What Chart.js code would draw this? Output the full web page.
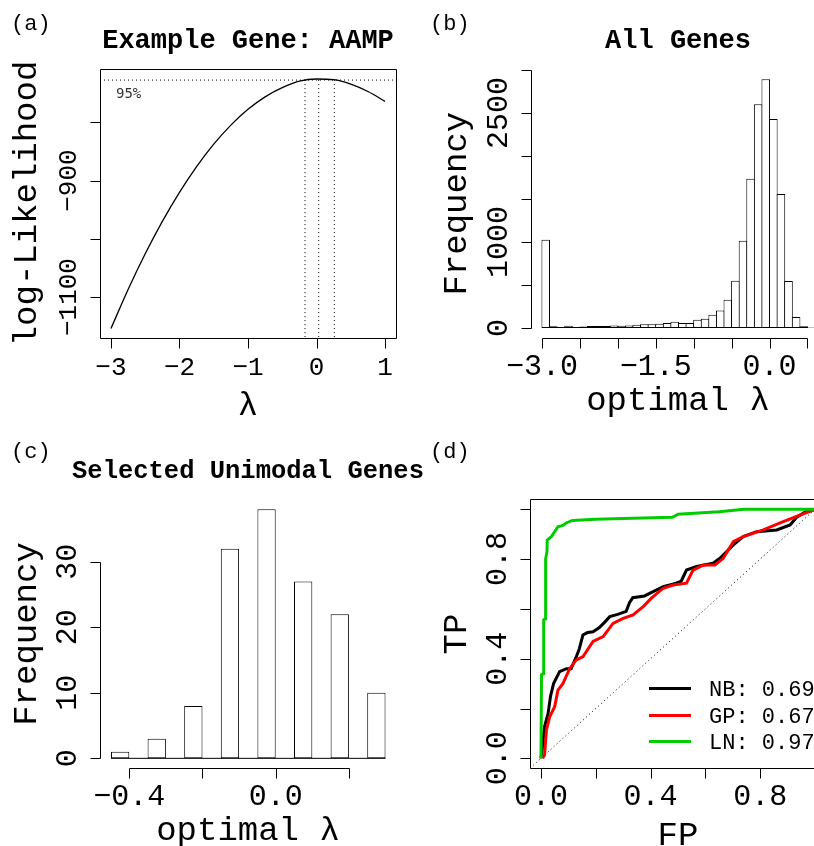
<!DOCTYPE html>
<html lang="en">
<head>
  <meta charset="UTF-8" />
  <title>Box-Cox lambda - four panels</title>
  <script src="https://cdn.jsdelivr.net/npm/chart.js"></script>
  <style>
    html, body { margin: 0; padding: 0; background: #fff; overflow: hidden; }
    #page { position: relative; width: 814px; height: 846px; overflow: hidden; background: #fff; }
    #page canvas { position: absolute; left: 0; top: 0; }
  </style>
</head>
<body>
<div id="page">
  <canvas id="panelA" width="840" height="846"></canvas>
  <canvas id="panelB" width="840" height="846"></canvas>
  <canvas id="panelC" width="840" height="846"></canvas>
  <canvas id="panelD" width="840" height="846"></canvas>
</div>

<script>
  // (a) profile log-likelihood for one gene
  const aLambda = [-3, -2.75, -2.5, -2.25, -2, -1.75, -1.5, -1.25, -1, -0.75, -0.5, -0.25, 0, 0.25, 0.5, 0.75, 1];
  const aLogLik = [-1154, -1087, -1025.7, -970.1, -920.2, -876, -837.5, -804.7, -777.6, -756.2, -740.5, -729.3, -725.6, -726.8, -734.4, -747.1, -764];
  const aCiLambda = [-0.168, 0.032, 0.26];
  const aCiLevel = -727.4;
  const aXTicks = [-3, -2, -1, 0, 1];
  const aXLabels = ['\u22123', '\u22122', '\u22121', '0', '1'];
  const aYTicks = [-1100, -1000, -900, -800];
  const aYLabels = ['\u22121100', '', '\u2212900', ''];

  // (b) optimal lambda, all genes (bins of 0.1)
  const allBreaks = [-3.0, -2.9, -2.8, -2.7, -2.6, -2.5, -2.4, -2.3, -2.2, -2.1, -2.0, -1.9, -1.8, -1.7, -1.6, -1.5, -1.4, -1.3, -1.2,
    -1.1, -1.0, -0.9, -0.8, -0.7, -0.6, -0.5, -0.4, -0.3, -0.2, -0.1, 0.0, 0.1, 0.2, 0.3, 0.4, 0.5, 0.6];
  const allCounts = [1027, 20, 12, 27, 12, 19, 23, 23, 23, 31, 27, 31, 39, 43, 43, 50, 58, 74, 58, 58, 97, 109, 155, 205,
    329, 550, 1016, 1736, 2601, 2891, 2430, 1558, 547, 128, 20, 6];
  const bXTicks = [-3, -2.5, -2, -1.5, -1, -0.5, 0, 0.5];
  const bXLabels = ['\u22123.0', '', '', '\u22121.5', '', '', '0.0', ''];
  const bYTicks = [0, 500, 1000, 1500, 2000, 2500, 3000];
  const bYLabels = ['0', '', '1000', '', '', '2500', ''];

  // (c) selected unimodal genes (bins of 0.05)
  const selBreaks = [-0.45, -0.40, -0.35, -0.30, -0.25, -0.20, -0.15, -0.10, -0.05, 0.00, 0.05, 0.10, 0.15, 0.20, 0.25, 0.30];
  const selCounts = [1, 0, 3, 0, 8, 0, 32, 0, 38, 0, 27, 0, 22, 0, 10];
  const cXTicks = [-0.4, -0.2, 0, 0.2];
  const cXLabels = ['\u22120.4', '', '0.0', ''];
  const cYTicks = [0, 10, 20, 30];
  const cYLabels = ['0', '10', '20', '30'];

  // (d) ROC curves
  const rocNames = ['NB', 'GP', 'LN'];
  const rocAuc = ['0.69', '0.67', '0.97'];
  const nbFP = [0.000, 0.006, 0.013, 0.026, 0.035, 0.046, 0.068, 0.093, 0.110, 0.129, 0.140, 0.153, 0.170, 0.190, 0.213, 0.231, 0.251, 0.280, 0.311,
    0.323, 0.335, 0.378, 0.402, 0.446, 0.494, 0.512, 0.531, 0.568, 0.628, 0.653, 0.702, 0.738, 0.787, 0.860, 0.909, 0.933, 0.962, 1.000];
  const nbTP = [0.000, 0.050, 0.127, 0.180, 0.250, 0.300, 0.348, 0.360, 0.360, 0.408, 0.440, 0.495, 0.505, 0.508, 0.525, 0.545, 0.569, 0.578, 0.590,
    0.625, 0.645, 0.652, 0.665, 0.689, 0.703, 0.712, 0.756, 0.770, 0.783, 0.803, 0.857, 0.890, 0.910, 0.917, 0.937, 0.968, 0.987, 1.000];
  const gpFP = [0.006, 0.013, 0.020, 0.032, 0.050, 0.062, 0.080, 0.105, 0.129, 0.153, 0.190, 0.227, 0.263, 0.300, 0.336, 0.373, 0.403, 0.446, 0.482,
    0.531, 0.555, 0.592, 0.635, 0.665, 0.702, 0.738, 0.811, 0.884, 1.000];
  const gpTP = [0.000, 0.013, 0.114, 0.167, 0.207, 0.274, 0.300, 0.361, 0.395, 0.408, 0.469, 0.489, 0.542, 0.562, 0.576, 0.609, 0.643, 0.683, 0.696,
    0.703, 0.756, 0.776, 0.776, 0.803, 0.870, 0.890, 0.917, 0.950, 1.000];
  const lnFP = [0.000, 0.002, 0.009, 0.010, 0.016, 0.017, 0.022, 0.023, 0.038, 0.062, 0.080, 0.092, 0.115, 0.200, 0.300, 0.480, 0.500, 0.650, 0.740, 1.000];
  const lnTP = [0.000, 0.335, 0.340, 0.556, 0.560, 0.800, 0.830, 0.877, 0.890, 0.930, 0.935, 0.945, 0.955, 0.960, 0.963, 0.968, 0.980, 0.990, 1.000, 1.000];
  const dTicks = [0, 0.2, 0.4, 0.6, 0.8, 1.0];
  const dLabels = ['0.0', '', '0.4', '', '0.8', ''];

  const W = 840, H = 846;
  const MONO = '"Liberation Mono", "Courier New", monospace';

  function zip(xs, ys) {
    return xs.map((x, i) => ({ x: x, y: ys[i] }));
  }

  function histData(breaks, counts) {
    return counts.map((c, i) => ({ x: (breaks[i] + breaks[i + 1]) / 2, y: c }));
  }

  function drawText(ctx, t) {
    ctx.save();
    ctx.font = t.font;
    ctx.fillStyle = t.color || '#000';
    ctx.textAlign = t.align || 'center';
    ctx.textBaseline = 'alphabetic';
    ctx.translate(t.x, t.y);
    if (t.rotate) ctx.rotate(-Math.PI / 2);
    ctx.fillText(t.text, 0, 0);
    ctx.restore();
  }

  // R-like axes: line from first to last tick, outward ticks, vertical y labels
  function rAxes(o) {
    return {
      id: 'rAxes',
      afterDraw(chart) {
        const ctx = chart.ctx, a = chart.chartArea;
        const sx = chart.scales.x, sy = chart.scales.y;
        const px = v => Math.round(sx.getPixelForValue(v)) + 0.5;
        const py = v => Math.round(sy.getPixelForValue(v)) + 0.5;
        const bottom = Math.round(a.bottom) + 0.5, left = Math.round(a.left) + 0.5;
        ctx.save();
        ctx.strokeStyle = '#000';
        ctx.lineWidth = 1;
        ctx.beginPath();
        if (o.box) {
          ctx.rect(left, Math.round(a.top) + 0.5, Math.round(a.right) - Math.round(a.left), Math.round(a.bottom) - Math.round(a.top));
        }
        ctx.moveTo(px(o.xTicks[0]), bottom);
        ctx.lineTo(px(o.xTicks[o.xTicks.length - 1]), bottom);
        o.xTicks.forEach(v => { ctx.moveTo(px(v), bottom); ctx.lineTo(px(v), bottom + 10); });
        ctx.moveTo(left, py(o.yTicks[0]));
        ctx.lineTo(left, py(o.yTicks[o.yTicks.length - 1]));
        o.yTicks.forEach(v => { ctx.moveTo(left, py(v)); ctx.lineTo(left - 10, py(v)); });
        ctx.stroke();
        ctx.restore();

        o.xTicks.forEach((v, i) => {
          if (o.xLabels[i]) drawText(ctx, { text: o.xLabels[i], font: o.tickFont, x: sx.getPixelForValue(v), y: a.bottom + 37 });
        });
        o.yTicks.forEach((v, i) => {
          if (o.yLabels[i]) drawText(ctx, { text: o.yLabels[i], font: o.tickFont, x: a.left - 24, y: sy.getPixelForValue(v), rotate: true });
        });
        (o.texts || []).forEach(t => drawText(ctx, t));
        if (o.extra) o.extra(chart);
      }
    };
  }

  function baseOptions(l, t, r, b, xMin, xMax, yMin, yMax) {
    return {
      responsive: false,
      animation: false,
      devicePixelRatio: 1,
      layout: { padding: { left: l, top: t, right: W - r, bottom: H - b } },
      plugins: { legend: { display: false }, tooltip: { enabled: false } },
      elements: { point: { radius: 0 } },
      scales: {
        x: { type: 'linear', display: false, offset: false, min: xMin, max: xMax },
        y: { type: 'linear', display: false, min: yMin, max: yMax }
      }
    };
  }

  // Panel (a)
  const aXMin = -3.16, aXMax = 1.16, aYMin = -1170.3, aYMax = -708.4;
  const aDatasets = [{
    data: zip(aLambda, aLogLik),
    borderColor: '#000', borderWidth: 1.3, cubicInterpolationMode: 'monotone', fill: false
  }, {
    data: [{ x: aXMin, y: aCiLevel }, { x: aXMax, y: aCiLevel }],
    borderColor: '#000', borderWidth: 1, borderDash: [1, 3], fill: false
  }];
  aCiLambda.forEach(v => aDatasets.push({
    data: [{ x: v, y: aCiLevel }, { x: v, y: aYMin }],
    borderColor: '#000', borderWidth: 1, borderDash: [1, 3], fill: false
  }));
  new Chart(document.getElementById('panelA'), {
    type: 'line',
    data: { datasets: aDatasets },
    options: baseOptions(100, 69, 396, 338, aXMin, aXMax, aYMin, aYMax),
    plugins: [rAxes({
      box: true, xTicks: aXTicks, xLabels: aXLabels, yTicks: aYTicks, yLabels: aYLabels,
      tickFont: '26px ' + MONO,
      texts: [
        { text: '(a)', font: '22px ' + MONO, x: 11, y: 30, align: 'left' },
        { text: 'Example Gene: AAMP', font: 'bold 27px ' + MONO, x: 248, y: 48 },
        { text: 'log-Likelihood', font: '34px ' + MONO, x: 36, y: 203.5, rotate: true },
        { text: '\u03bb', font: '34px ' + MONO, x: 248, y: 415 },
        { text: '95%', font: '14px "DejaVu Sans Mono", monospace', color: '#333', x: 116, y: 98, align: 'left' }
      ]
    })]
  });

  // Panel (b)
  new Chart(document.getElementById('panelB'), {
    type: 'bar',
    data: {
      datasets: [{
        data: histData(allBreaks, allCounts),
        backgroundColor: '#fff', borderColor: '#000', borderWidth: 1, borderSkipped: false,
        barPercentage: 1.13, categoryPercentage: 1, inflateAmount: 0
      }]
    },
    options: baseOptions(531, 69.4, 826, 338, -3.144, 0.744, -115.6, 3006.6),
    plugins: [rAxes({
      box: false, xTicks: bXTicks, xLabels: bXLabels, yTicks: bYTicks, yLabels: bYLabels,
      tickFont: '30px ' + MONO,
      texts: [
        { text: '(b)', font: '22px ' + MONO, x: 430, y: 30, align: 'left' },
        { text: 'All Genes', font: 'bold 27px ' + MONO, x: 678, y: 48 },
        { text: 'Frequency', font: '34px ' + MONO, x: 466, y: 203.7, rotate: true },
        { text: 'optimal \u03bb', font: '34px ' + MONO, x: 678, y: 410 }
      ]
    })]
  });

  // Panel (c)
  new Chart(document.getElementById('panelC'), {
    type: 'bar',
    data: {
      datasets: [{
        type: 'line',
        data: [{ x: selBreaks[0], y: 0 }, { x: selBreaks[selBreaks.length - 1], y: 0 }],
        borderColor: '#000', borderWidth: 1, fill: false
      }, {
        data: histData(selBreaks, selCounts),
        backgroundColor: '#fff', borderColor: '#000', borderSkipped: false,
        borderWidth: ctx => (ctx.raw && ctx.raw.y === 0 ? 0 : 1),
        barPercentage: 1, categoryPercentage: 1, inflateAmount: 0
      }]
    },
    options: baseOptions(100, 499.4, 396.5, 768.3, -0.48, 0.33, -1.52, 39.52),
    plugins: [rAxes({
      box: false, xTicks: cXTicks, xLabels: cXLabels, yTicks: cYTicks, yLabels: cYLabels,
      tickFont: '30px ' + MONO,
      texts: [
        { text: '(c)', font: '22px ' + MONO, x: 11, y: 458, align: 'left' },
        { text: 'Selected Unimodal Genes', font: 'bold 25.5px ' + MONO, x: 248, y: 478 },
        { text: 'Frequency', font: '34px ' + MONO, x: 36, y: 634, rotate: true },
        { text: 'optimal \u03bb', font: '34px ' + MONO, x: 248, y: 840 }
      ]
    })]
  });

  // Panel (d)
  const rocColors = ['#000000', '#ff0000', '#00cc00'];
  new Chart(document.getElementById('panelD'), {
    type: 'line',
    data: {
      datasets: [
        { data: zip(lnFP, lnTP), borderColor: rocColors[2], borderWidth: 3, order: 0, fill: false },
        { data: zip(gpFP, gpTP), borderColor: rocColors[1], borderWidth: 3, order: 1, fill: false },
        { data: zip(nbFP, nbTP), borderColor: rocColors[0], borderWidth: 3, order: 2, fill: false },
        { data: [{ x: -0.04, y: -0.04 }, { x: 1.04, y: 1.04 }], borderColor: '#000', borderWidth: 1, borderDash: [1, 3], order: 3, fill: false }
      ]
    },
    options: baseOptions(530, 499.3, 826, 768.3, -0.04, 1.04, -0.04, 1.04),
    plugins: [rAxes({
      box: true, xTicks: dTicks, xLabels: dLabels, yTicks: dTicks, yLabels: dLabels,
      tickFont: '30px ' + MONO,
      texts: [
        { text: '(d)', font: '22px ' + MONO, x: 430, y: 458, align: 'left' },
        { text: 'TP', font: '34px ' + MONO, x: 466, y: 634, rotate: true },
        { text: 'FP', font: '34px ' + MONO, x: 678, y: 845 }
      ],
      extra(chart) {
        const ctx = chart.ctx;
        const rowY = [688.5, 715.5, 741.5];
        rocNames.forEach((n, i) => {
          ctx.save();
          ctx.strokeStyle = rocColors[i];
          ctx.lineWidth = 3;
          ctx.beginPath();
          ctx.moveTo(649, rowY[i]);
          ctx.lineTo(691, rowY[i]);
          ctx.stroke();
          ctx.restore();
          drawText(ctx, { text: n + ': ' + rocAuc[i], font: '22px ' + MONO, x: 709, y: rowY[i] + 7, align: 'left' });
        });
      }
    })]
  });
</script>
</body>
</html>
